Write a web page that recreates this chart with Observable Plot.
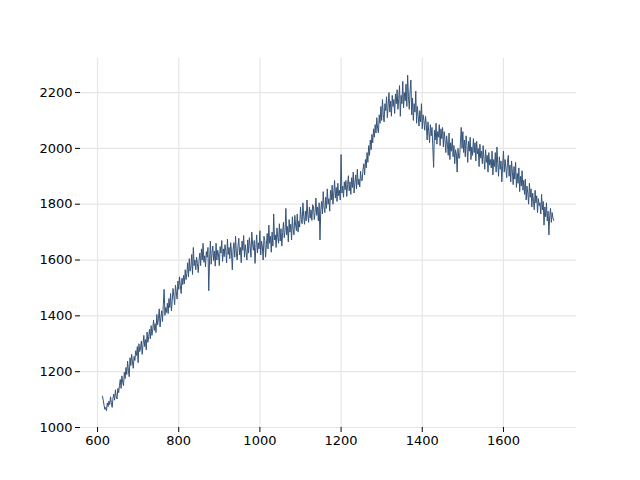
<!DOCTYPE html>
<html>
<head>
<meta charset="utf-8">
<script src="https://cdn.jsdelivr.net/npm/d3@7"></script>
<script src="https://cdn.jsdelivr.net/npm/@observablehq/plot@0.6"></script>
<style>
  html, body { margin: 0; padding: 0; background: #fff; }
</style>
</head>
<body>
<div id="chart"></div>
<script>
const xStart = 612;
const xStep = 2;
const values = [
  1112, 1098, 1080, 1065, 1072, 1060, 1088, 1075, 1095, 1082,
  1110, 1090, 1072, 1105, 1120, 1098, 1135, 1112, 1102, 1140,
  1125, 1150, 1172, 1140, 1185, 1162, 1150, 1198, 1175, 1215,
  1190, 1238, 1205, 1182, 1250, 1222, 1262, 1235, 1212, 1255,
  1240, 1275, 1258, 1290, 1232, 1300, 1272, 1285, 1310, 1262,
  1298, 1330, 1290, 1315, 1278, 1342, 1305, 1325, 1352, 1318,
  1365, 1330, 1352, 1385, 1348, 1372, 1340, 1405, 1368, 1390,
  1425, 1360, 1395, 1418, 1380, 1440, 1495, 1402, 1430, 1412,
  1445, 1408, 1462, 1430, 1480, 1418, 1455, 1498, 1470, 1440,
  1510, 1485, 1460, 1525, 1495, 1540, 1508, 1480, 1535, 1512,
  1545, 1515, 1565, 1530, 1552, 1590, 1540, 1605, 1560, 1575,
  1620, 1548, 1645, 1580, 1600, 1565, 1610, 1588, 1555, 1598,
  1625, 1580, 1640, 1600, 1660, 1592, 1615, 1575, 1630, 1610,
  1645, 1490, 1600, 1668, 1585, 1625, 1650, 1598, 1632, 1578,
  1660, 1600, 1635, 1618, 1580, 1648, 1625, 1670, 1595, 1640,
  1612, 1655, 1630, 1590, 1675, 1620, 1645, 1605, 1662, 1628,
  1565, 1640, 1662, 1610, 1685, 1625, 1600, 1650, 1678, 1618,
  1645, 1590, 1668, 1635, 1688, 1610, 1655, 1628, 1600, 1672,
  1625, 1680, 1648, 1610, 1700, 1655, 1635, 1670, 1588, 1645,
  1690, 1625, 1662, 1640, 1705, 1618, 1668, 1650, 1600, 1685,
  1670, 1610, 1655, 1695, 1640, 1725, 1660, 1685, 1628, 1700,
  1650, 1765, 1672, 1690, 1645, 1715, 1680, 1660, 1730, 1668,
  1712, 1650, 1698, 1735, 1680, 1705, 1785, 1690, 1720, 1665,
  1745, 1700, 1728, 1672, 1755, 1710, 1690, 1760, 1725, 1705,
  1765, 1700, 1740, 1718, 1790, 1745, 1730, 1805, 1755, 1728,
  1775, 1740, 1815, 1762, 1735, 1790, 1750, 1780, 1742, 1798,
  1792, 1745, 1770, 1822, 1760, 1790, 1740, 1805, 1672, 1780,
  1810, 1765, 1845, 1790, 1770, 1825, 1785, 1855, 1800, 1820,
  1775, 1850, 1815, 1868, 1800, 1840, 1885, 1822, 1860, 1810,
  1875, 1830, 1850, 1815, 1978, 1840, 1865, 1825, 1880, 1852,
  1885, 1828, 1870, 1902, 1848, 1880, 1835, 1895, 1860, 1915,
  1840, 1878, 1905, 1855, 1925, 1870, 1890, 1862, 1918, 1885,
  1885, 1925, 1945, 1905, 1960, 1930, 1985, 1950, 2010, 1975,
  2030, 1995, 2050, 2020, 2070, 2040, 2085, 2055, 2110, 2070,
  2055, 2120, 2090, 2150, 2100, 2175, 2120, 2095, 2160, 2135,
  2185, 2110, 2155, 2200, 2130, 2170, 2115, 2190, 2150, 2175,
  2125, 2195, 2160, 2210, 2140, 2178, 2225, 2115, 2190, 2160,
  2240, 2145, 2200, 2170, 2230, 2150, 2262, 2185, 2140, 2205,
  2245, 2120, 2180, 2100, 2160, 2130, 2205, 2090, 2150, 2115,
  2080, 2135, 2095, 2160, 2070, 2120, 2100, 2065, 2115, 2085,
  2030, 2095, 2060, 2020, 2085, 2045, 2075, 2005, 1932, 2065,
  2030, 2090, 2015, 2060, 2040, 2085, 2010, 2070, 2035, 2075,
  2005, 2060, 2030, 1985, 2045, 2015, 1975, 2055, 1960, 2020,
  1990, 2035, 1970, 2010, 1945, 1995, 1980, 1915, 2000, 1965,
  1965, 2020, 2075, 2000, 2060, 1985, 2030, 1970, 2045, 2010,
  1950, 2025, 1990, 2040, 1960, 2005, 1975, 2035, 1985, 2020,
  1955, 2025, 1980, 2000, 1935, 2015, 1965, 1990, 1945, 2010,
  1960, 1925, 1995, 1950, 1975, 1915, 1985, 1940, 1960, 1930,
  1990, 1905, 1960, 1935, 1985, 1915, 2005, 1945, 1900, 1970,
  1925, 1955, 1880, 1940, 1990, 1915, 1960, 1930, 1895, 1950,
  1975, 1900, 1940, 1880, 1955, 1915, 1870, 1935, 1890, 1950,
  1860, 1910, 1875, 1930, 1845, 1900, 1865, 1920, 1850, 1885,
  1835, 1890, 1815, 1865, 1840, 1800, 1875, 1825, 1855, 1790,
  1840, 1810, 1780, 1850, 1805, 1830, 1770, 1820, 1795, 1805,
  1765, 1835, 1780, 1810, 1725, 1790, 1755, 1805, 1740, 1775,
  1690, 1760, 1785, 1735, 1770, 1750, 1742
];
const xTicks = [600, 800, 1000, 1200, 1400, 1600];
const yTicks = [1000, 1200, 1400, 1600, 1800, 2000, 2200];

const data = values.map((v, i) => ({x: xStart + i * xStep, y: v}));

const chart = Plot.plot({
  width: 640,
  height: 480,
  marginLeft: 80,
  marginRight: 64,
  marginTop: 58,
  marginBottom: 53,
  style: {fontFamily: "DejaVu Sans", fontSize: "13px", color: "#000", background: "#fff"},
  x: {domain: [558, 1780]},
  y: {domain: [1000, 2322]},
  marks: [
    Plot.gridX(xTicks, {stroke: "#e6e6e6", strokeOpacity: 1, strokeWidth: 1.2}),
    Plot.gridY(yTicks, {stroke: "#e6e6e6", strokeOpacity: 1, strokeWidth: 1.2}),
    Plot.axisX({ticks: xTicks, tickSize: 5, tickPadding: 3, label: null, tickFormat: d => String(d), fontSize: 13}),
    Plot.axisY({ticks: yTicks, tickSize: 5, tickPadding: 3, label: null, tickFormat: d => String(d), fontSize: 13}),
    Plot.line(data, {x: "x", y: "y", stroke: "#365479", strokeWidth: 1})
  ]
});
document.getElementById("chart").appendChild(chart);
</script>
</body>
</html>
